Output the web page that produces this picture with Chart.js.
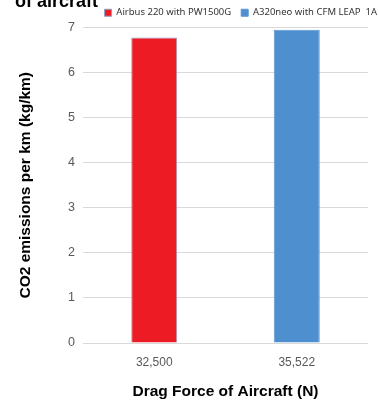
<!DOCTYPE html>
<html><head><meta charset="utf-8">
<script src="https://cdn.jsdelivr.net/npm/chart.js@4.4.0/dist/chart.umd.min.js"></script>
<style>html,body{margin:0;padding:0;background:#fff;}#wrap{width:378px;height:402px;position:relative;}</style>
</head><body><div id="wrap"><canvas id="c"></canvas></div>
<script>
const categories = ["32,500", "35,522"];
const seriesNames = ["Airbus 220 with PW1500G", "A320neo with CFM LEAP  1A"];
const airbus220 = [6.78, null];
const a320neo = [null, 6.95];
const yTicks = [0, 1, 2, 3, 4, 5, 6, 7];
const titleText = "of aircraft";
const yTitle = "CO2 emissions per km (kg/km)";
const xTitle = "Drag Force of Aircraft (N)";

const titlePlugin = {
  id: 'clippedTitle',
  afterLayout(chart) {
    const lg = chart.legend;
    if (lg) { lg.left += 9; lg.right += 9; }
  },
  afterDraw(chart) {
    const ctx = chart.ctx;
    ctx.save();
    ctx.font = 'bold 18px "Liberation Sans", Arial, sans-serif';
    ctx.fillStyle = '#000';
    ctx.textAlign = 'left';
    ctx.textBaseline = 'alphabetic';
    ctx.fillText(titleText, 15, 7);
    ctx.restore();
  }
};

new Chart(document.getElementById('c'), {
  type: 'bar',
  data: {
    labels: categories,
    datasets: [
      { label: seriesNames[0], data: airbus220, backgroundColor: '#ED1C24', borderColor: '#8fa0c8', borderWidth: 1 },
      { label: seriesNames[1], data: a320neo, backgroundColor: '#4E8FD0', borderColor: '#5b95cf', borderWidth: 1 }
    ]
  },
  options: {
    responsive: true,
    maintainAspectRatio: false,
    animation: false,
    layout: { padding: { top: -2, left: 0, right: 0, bottom: 0 } },
    datasets: { bar: { skipNull: true, barPercentage: 1, categoryPercentage: 0.323 } },
    plugins: {
      legend: {
        position: 'top', align: 'end',
        labels: {
          boxWidth: 7, boxHeight: 7, padding: 10,
          color: '#333333',
          font: { family: '"Noto Sans", sans-serif', size: 9.5 }
        }
      },
      tooltip: { enabled: false }
    },
    scales: {
      x: {
        grid: { display: false, drawTicks: false },
        border: { display: false },
        ticks: { color: '#595959', font: { family: '"Liberation Sans", Arial, sans-serif', size: 12 }, padding: 12 },
        title: { display: true, text: xTitle, color: '#000', font: { family: '"Liberation Sans", Arial, sans-serif', size: 15.5, weight: 'bold' }, padding: { top: 4, bottom: 1 } },
        afterFit: s => { s.height = 59; }
      },
      y: {
        min: 0, max: 7,
        afterBuildTicks: s => { s.ticks = yTicks.map(v => ({ value: v })); },
        grid: { color: '#d9d9d9', drawTicks: false },
        border: { display: false },
        ticks: { color: '#595959', font: { family: '"Liberation Sans", Arial, sans-serif', size: 12.5 }, padding: 8 },
        title: { display: true, text: yTitle, color: '#000', font: { family: '"Liberation Sans", Arial, sans-serif', size: 15.5, weight: 'bold' }, padding: { top: 16, bottom: 4 } },
        afterFit: s => { s.width = 83; }
      },
      y2: {
        position: 'right', display: true,
        grid: { display: false, drawTicks: false }, border: { display: false },
        ticks: { display: false },
        afterFit: s => { s.width = 10; }
      }
    }
  },
  plugins: [titlePlugin]
});
</script></body></html>
